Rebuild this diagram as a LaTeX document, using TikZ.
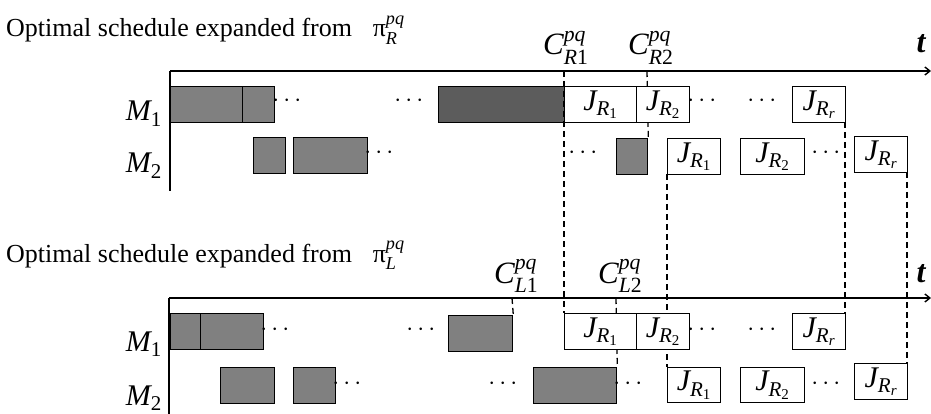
\documentclass[tikz,border=0pt]{standalone}
\usepackage{fontspec}
\usepackage{amsmath}
\setmainfont{Liberation Serif}
\usetikzlibrary{arrows.meta}
\newcommand{\itx}[1]{\textit{#1}}
\begin{document}
\begin{tikzpicture}[x=1pt,y=-1pt,
  box/.style={draw, line width=1.3pt, anchor=north west, inner sep=0pt, minimum height=36pt},
  shaded/.style={box, fill=black!50},
  darkbox/.style={box, fill=black!64},
  jbox/.style={box, fill=white, font=\fontsize{30}{32}\selectfont},
  axisline/.style={line width=1.4pt},
  guide/.style={line width=1.3pt, dash pattern=on 6pt off 4pt},
  dotsnode/.style={anchor=base, inner sep=0pt, font=\fontsize{25}{27}\selectfont},
  ttl/.style={anchor=base west, inner sep=0pt, font=\fontsize{26}{31}\selectfont},
  mlab/.style={anchor=base east, inner sep=0pt, font=\fontsize{30}{32}\selectfont},
  clab/.style={anchor=base west, inner sep=0pt, font=\fontsize{31}{33}\selectfont},
  tlab/.style={anchor=base, inner sep=0pt, font=\fontsize{32}{34}\selectfont\bfseries\itshape},
]
\useasboundingbox (0,0) rectangle (931,414);

% ---------- coordinates ----------
\coordinate (oA) at (170,71);
\coordinate (eA) at (931,71);
\coordinate (bA) at (170,191);
\coordinate (oB) at (169,298);
\coordinate (eB) at (931,298);
\coordinate (bB) at (169,414);
\coordinate (cR1) at (564,71);
\coordinate (cR2) at (647,71);
\coordinate (cL1) at (512,298);
\coordinate (cL2) at (616,298);

% ---------- titles ----------
\node[ttl] (titleR) at (6,37) {Optimal schedule expanded from\hspace{0.8em}$\text{π}^{\itx{pq}}_{\itx{R}}$};
\node[ttl] (titleL) at (6,262) {Optimal schedule expanded from\hspace{0.8em}$\text{π}^{\itx{pq}}_{\itx{L}}$};

% ---------- shaded boxes ----------
\node[shaded, minimum width=72pt] (u1a) at (170,86) {};
\node[shaded, minimum width=32pt] (u1b) at (242,86) {};
\node[darkbox, minimum width=126pt] (u1c) at (438,86) {};
\node[shaded, minimum width=32pt] (u2a) at (253,137) {};
\node[shaded, minimum width=74pt] (u2b) at (293,137) {};
\node[shaded, minimum width=31pt] (u2c) at (616,138) {};

\node[shaded, minimum width=30pt] (l1a) at (170,313) {};
\node[shaded, minimum width=63pt] (l1b) at (200,313) {};
\node[shaded, minimum width=64pt] (l1c) at (448,315) {};
\node[shaded, minimum width=54pt] (l2a) at (220,367) {};
\node[shaded, minimum width=42pt] (l2b) at (293,367) {};
\node[shaded, minimum width=83pt] (l2c) at (533,367) {};

% corners of the J boxes (the boxes are drawn on top of the guides)
\coordinate (uJ1nw) at (564,86);
\coordinate (lJ1nw) at (564,313);
\coordinate (uJrse) at (845,122);
\coordinate (lJrne) at (845,313);
\coordinate (vJ1sw) at (667,174);
\coordinate (mJ1nw) at (667,367);
\coordinate (vJrse) at (907,172);
\coordinate (mJrne) at (907,363);

% ---------- dashed guides ----------
\draw[guide] (cR1) -- (lJ1nw);
\draw[guide] (cR2) -- (u2c.north east);
\draw[guide] (vJ1sw) -- (mJ1nw);
\draw[guide] (uJrse) -- (lJrne);
\draw[guide] (vJrse) -- (mJrne);
\draw[guide] (cL1) -- (l1c.north east);
\draw[guide] (cL2) -- (l2c.north east);

% ---------- axes ----------
\draw[axisline, -{Straight Barb[length=5pt,width=8pt]}] (oA) -- (eA);
\draw[axisline] (oA) -- (bA);
\draw[axisline, -{Straight Barb[length=5pt,width=8pt]}] (oB) -- (eB);
\draw[axisline] (oB) -- (bB);

% ---------- J boxes ----------
\node[jbox, minimum width=72pt] (uJ1) at (uJ1nw) {$\itx{J}_{\itx{R}_{\text{1}}}$};
\node[jbox, minimum width=53pt] (uJ2) at (636,86) {$\itx{J}_{\itx{R}_{\text{2}}}$};
\node[jbox, minimum width=53pt] (uJr) at (792,86) {$\itx{J}_{\itx{R}_{\itx{r}}}$};
\node[jbox, minimum width=53pt] (vJ1) at (667,138) {$\itx{J}_{\itx{R}_{\text{1}}}$};
\node[jbox, minimum width=64pt] (vJ2) at (740,138) {$\itx{J}_{\itx{R}_{\text{2}}}$};
\node[jbox, minimum width=53pt] (vJr) at (854,136) {$\itx{J}_{\itx{R}_{\itx{r}}}$};

\node[jbox, minimum width=72pt] (lJ1) at (lJ1nw) {$\itx{J}_{\itx{R}_{\text{1}}}$};
\node[jbox, minimum width=53pt] (lJ2) at (636,313) {$\itx{J}_{\itx{R}_{\text{2}}}$};
\node[jbox, minimum width=53pt] (lJr) at (792,313) {$\itx{J}_{\itx{R}_{\itx{r}}}$};
\node[jbox, minimum width=53pt, minimum height=35pt] (mJ1) at (mJ1nw) {$\itx{J}_{\itx{R}_{\text{1}}}$};
\node[jbox, minimum width=64pt, minimum height=35pt] (mJ2) at (740,367) {$\itx{J}_{\itx{R}_{\text{2}}}$};
\node[jbox, minimum width=53pt] (mJr) at (854,363) {$\itx{J}_{\itx{R}_{\itx{r}}}$};

% ---------- machine labels ----------
\node[mlab] (mU1) at (162,121) {$\itx{M}_{\text{1}}$};
\node[mlab] (mU2) at (162,173) {$\itx{M}_{\text{2}}$};
\node[mlab] (mL1) at (162,351) {$\itx{M}_{\text{1}}$};
\node[mlab] (mL2) at (162,405) {$\itx{M}_{\text{2}}$};

% ---------- completion time labels ----------
\node[clab] (lcR1) at (543,55) {$\itx{C}^{\itx{pq}}_{\itx{R}\text{1}}$};
\node[clab] (lcR2) at (628,55) {$\itx{C}^{\itx{pq}}_{\itx{R}\text{2}}$};
\node[clab] (lcL1) at (494,283) {$\itx{C}^{\itx{pq}}_{\itx{L}\text{1}}$};
\node[clab] (lcL2) at (598,283) {$\itx{C}^{\itx{pq}}_{\itx{L}\text{2}}$};
\node[tlab] (tU) at (921,53) {t};
\node[tlab] (tL) at (921,282) {t};

% ---------- dots ----------
\foreach \nm/\x/\y in {d1/289/107, d2/411/107, d3/704/107, d4/764/107,
                      d5/381/159, d6/585/159, d7/828/159,
                      d8/277/335, d9/423/335, d10/704/335, d11/764/335,
                      d12/349/389, d13/505/389, d14/630/389, d15/828/389}
  \node[dotsnode] (\nm) at (\x,\y) {$\cdots$};
\end{tikzpicture}
\end{document}
